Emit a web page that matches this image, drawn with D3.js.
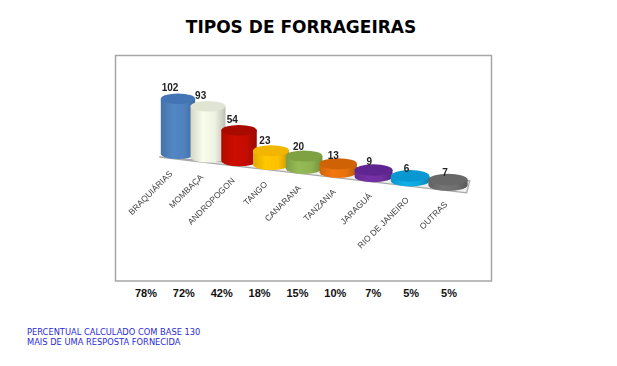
<!DOCTYPE html>
<html>
<head>
<meta charset="utf-8">
<script src="https://cdn.jsdelivr.net/npm/d3@7"></script>
<style>
  html, body { margin: 0; padding: 0; background: #fff; }
  svg { display: block; }
</style>
</head>
<body>
<div id="chart"></div>
<script>
const categories = ["BRAQUIÁRIAS", "MOMBAÇA", "ANDROPOGON", "TANGO", "CANARANA", "TANZANIA", "JARAGUÁ", "RIO DE JANEIRO", "OUTRAS"];
const values = [102, 93, 54, 23, 20, 13, 9, 6, 7];
const percents = ["78%", "72%", "42%", "18%", "15%", "10%", "7%", "5%", "5%"];
const barColors = ["#4f81bd", "#eef2e2", "#c40c00", "#ffc000", "#8fb351", "#e8720c", "#7030a0", "#0fa8e0", "#6f6f6f"];
const topColors = ["#4375b4", "#dfe5d2", "#a80a00", "#f2b600", "#7ea242", "#d06206", "#5f2590", "#0a98d2", "#686868"];
const footnotes = ["PERCENTUAL CALCULADO COM BASE 130", "MAIS DE UMA RESPOSTA FORNECIDA"];

const width = 617, height = 366;
const frame = {left: 115.5, top: 55.5, right: 491.5, bottom: 281};

const svg = d3.select("#chart").append("svg")
    .attr("width", width)
    .attr("height", height)
    .style("font-family", "'Liberation Sans', Arial, sans-serif");

svg.append("text")
    .attr("x", 301)
    .attr("y", 32.5)
    .attr("text-anchor", "middle")
    .style("font-family", "'DejaVu Sans', Verdana, sans-serif")
    .style("font-weight", "bold")
    .style("font-size", "17px")
    .text("TIPOS DE FORRAGEIRAS");

svg.append("rect")
    .attr("x", frame.left)
    .attr("y", frame.top)
    .attr("width", frame.right - frame.left)
    .attr("height", frame.bottom - frame.top)
    .attr("fill", "#fff")
    .attr("stroke", "#a6a6a6")
    .attr("stroke-width", 1.5);

// the 3d look: things further to the right are nearer to the camera
const depth = 0.124;
const indexScale = d3.scaleLinear().domain([0, categories.length - 1]).range([0, 1]);
const floorX = d3.scaleLinear().domain([0, 1]).range([178, 448]);
const floorY = d3.scaleLinear().domain([178, 448]).range([153.8, 185]);
const grow = u => 1 / (1 - depth * u);
const px = u => floorX(u * (1 - depth) * grow(u));

const heightScale = d3.scaleLinear().domain([0, 102]).range([1, 55]);
const labelShift = d3.scaleLinear().domain([0, 1]).range([-8, -3]);
const labelLift = d3.scaleLinear().domain([0, 1]).range([-3, 2.5]);

const bars = categories.map((name, i) => {
    const u = indexScale(i);
    const x = px(u), bottom = floorY(x);
    return {
        name, i, u, x, bottom,
        value: values[i],
        top: bottom - heightScale(values[i]) * grow(u),
        rx: 17.2 * grow(u),
        ry: 5.2 * grow(u)
    };
});

const defs = svg.append("defs");
bars.forEach(d => {
    const base = d3.color(barColors[d.i]);
    const grad = defs.append("linearGradient").attr("id", "cyl" + d.i);
    grad.append("stop").attr("offset", "0%").attr("stop-color", base.darker(0.35));
    grad.append("stop").attr("offset", "35%").attr("stop-color", base.brighter(0.12));
    grad.append("stop").attr("offset", "70%").attr("stop-color", base);
    grad.append("stop").attr("offset", "100%").attr("stop-color", base.darker(0.65));
});

const plot = svg.append("g").style("filter", "blur(0.35px)");

// floor, the front edge is what shows between the bars
const floorPts = [
    [px(-0.08), floorY(px(-0.08)) + 5.5],
    [px(1.07), floorY(px(1.07)) - 6.6],
    [px(1.06), floorY(px(1.06)) + 5.8]
];
plot.append("path")
    .attr("d", d3.line()(floorPts) + "Z")
    .attr("fill", "#eeeeee")
    .attr("stroke", "#a8a8a8")
    .attr("stroke-width", 1.2);

const cyl = plot.append("g").selectAll("g")
    .data(bars)
    .enter()
    .append("g");

cyl.append("path")
    .attr("d", d => `M${d.x - d.rx},${d.top}L${d.x - d.rx},${d.bottom}`
        + `A${d.rx},${d.ry} 0 0 0 ${d.x + d.rx},${d.bottom}L${d.x + d.rx},${d.top}Z`)
    .attr("fill", d => `url(#cyl${d.i})`);

cyl.append("ellipse")
    .attr("cx", d => d.x)
    .attr("cy", d => d.top)
    .attr("rx", d => d.rx)
    .attr("ry", d => d.ry)
    .attr("fill", d => topColors[d.i]);

// value labels
plot.append("g").selectAll("text")
    .data(bars)
    .enter()
    .append("text")
    .attr("x", d => d.x + labelShift(d.u))
    .attr("y", d => d.top - d.ry + labelLift(d.u))
    .attr("text-anchor", "middle")
    .attr("fill", "#222")
    .style("font-size", "10px")
    .style("font-weight", "bold")
    .text(d => d.value);

// category labels
const catLift = d3.scaleLinear().domain([0, 1]).range([20.5, 20]);
plot.append("g").selectAll("text")
    .data(bars)
    .enter()
    .append("text")
    .attr("transform", d => `translate(${d.x + labelShift(d.u) + 3},${d.bottom + catLift(d.u)}) rotate(-45)`)
    .attr("text-anchor", "end")
    .attr("fill", "#404040")
    .style("font-size", "8.5px")
    .text(d => d.name);

// percent row under the frame
const pctX = d3.scalePoint().domain(categories).range([146, 449]);
svg.append("g").selectAll("text")
    .data(bars)
    .enter()
    .append("text")
    .attr("x", d => pctX(d.name))
    .attr("y", 297)
    .attr("text-anchor", "middle")
    .attr("fill", "#111")
    .style("font-size", "11px")
    .style("font-weight", "bold")
    .text(d => percents[d.i]);

svg.append("g").selectAll("text")
    .data(footnotes)
    .enter()
    .append("text")
    .attr("x", 27)
    .attr("y", (d, i) => 335 + i * 10)
    .attr("fill", "#2a2ad8")
    .style("font-family", "'DejaVu Sans', Verdana, sans-serif")
    .style("font-size", "8.3px")
    .text(d => d);
</script>
</body>
</html>
